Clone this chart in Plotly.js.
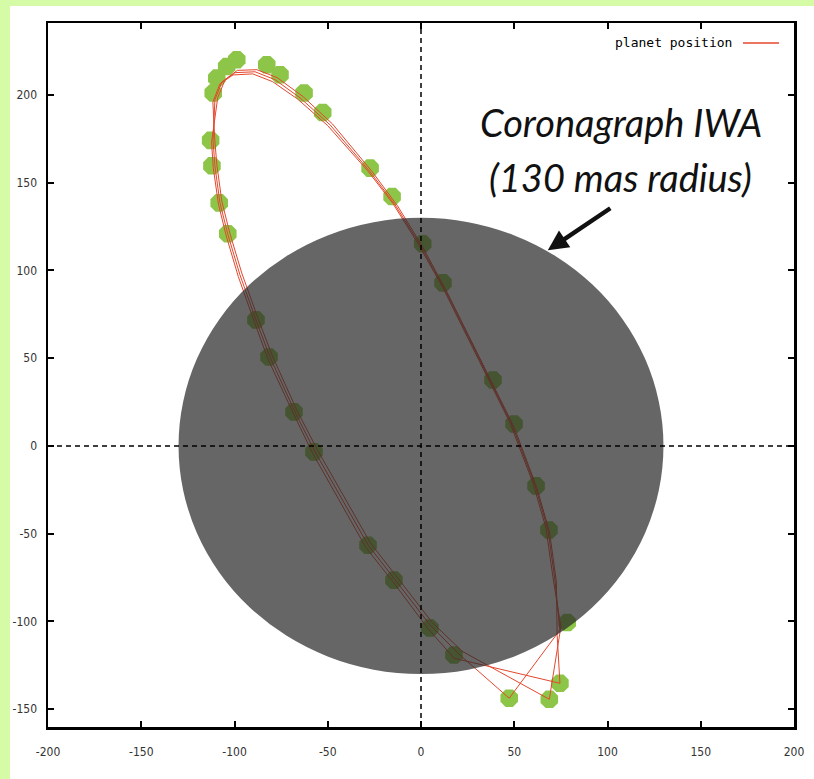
<!DOCTYPE html>
<html>
<head>
<meta charset="utf-8">
<script src="https://cdn.plot.ly/plotly-3.0.1.min.js"></script>
<style>
  html, body { margin:0; padding:0; background:#d5fba6; width:814px; height:779px; overflow:hidden; }
  #plot { position:absolute; left:10px; top:6px; width:804px; height:773px; background:#ffffff; }
</style>
</head>
<body>
<div id="plot"></div>
<script>
// ---- Data (mas) ----
const iwaRadius = 130;

// measured planet positions (green markers)
const posX = [-98.8, -104.2, -109.5, -111.4, -82.7, -75.6, -62.7, -52.7, -27.3, -15.5, 0.9, 11.8, 38.6, 49.9, 61.7, 68.6, 78.4, 74.5, 68.8, 47.3, 17.7, 4.8, -14.5, -28.4, -57.4, -68.1, -81.5, -88.5, -103.6, -108.2, -112.1, -112.8];
const posY = [220.1, 216.2, 209.6, 201.1, 217.2, 211.5, 201.1, 190.0, 158.3, 142.1, 115.2, 92.9, 37.6, 12.5, -22.8, -47.9, -100.7, -135.3, -144.4, -143.8, -119.2, -103.8, -76.5, -56.6, -3.4, 19.4, 50.7, 71.8, 120.9, 138.5, 159.6, 174.1];

// orbit tracks (red lines), three passes
const orbitAX = [-110.5, -106.7, -99.7, -89.0, -78.3, -64.9, -48.8, -27.3, -13.9, -0.5, 12.9, 37.0, 48.8, 61.1, 68.1, 71.8, 74.5, 47.3, 20.9, 4.8, -13.9, -28.4, -56.8, -67.6, -81.0, -88.5, -97.1, -103.5, -107.8, -110.5, -111.5, -110.5];
const orbitAY = [197.3, 207.5, 212.7, 213.2, 208.7, 198.4, 183.0, 156.2, 137.4, 114.6, 88.9, 37.6, 12.0, -22.2, -47.9, -76.4, -104.9, -143.8, -119.2, -102.0, -76.4, -56.4, -3.4, 19.4, 50.7, 71.8, 97.5, 120.3, 138.5, 159.6, 173.9, 197.3];

const orbitBX = [-109.0, -105.0, -98.5, -88.0, -77.0, -63.2, -47.5, -26.0, -12.6, 0.8, 14.0, 38.2, 50.0, 62.0, 68.9, 72.6, 73.0, 74.5, 17.7, 3.5, -15.0, -29.6, -57.9, -68.5, -82.1, -89.4, -98.0, -104.4, -108.6, -111.4, -112.3, -109.0];
const orbitBY = [198.5, 208.8, 214.0, 214.4, 209.8, 199.0, 183.5, 156.0, 136.8, 113.6, 87.5, 36.0, 10.5, -23.5, -49.0, -77.6, -108.0, -135.3, -121.0, -103.8, -77.5, -57.8, -4.6, 18.6, 49.6, 70.8, 96.6, 119.6, 137.7, 158.6, 173.0, 198.5];

const orbitCX = [-111.6, -107.8, -100.8, -90.2, -79.6, -66.1, -50.0, -28.6, -15.1, -1.8, 11.7, 35.8, 47.6, 60.0, 67.0, 70.8, 75.0, 68.8, 22.0, 6.0, -12.7, -27.2, -55.6, -66.6, -79.9, -87.5, -96.1, -102.5, -106.8, -109.5, -110.6, -111.6];
const orbitCY = [196.0, 206.3, 211.4, 212.0, 207.6, 197.6, 182.5, 156.8, 138.2, 115.6, 90.2, 39.0, 13.4, -21.0, -46.8, -75.2, -103.0, -144.4, -117.0, -100.6, -75.2, -55.2, -2.2, 20.4, 51.8, 72.9, 98.5, 121.2, 139.4, 160.6, 174.9, 196.0];

const xTicks = [-200, -150, -100, -50, 0, 50, 100, 150, 200];
const yTicks = [-150, -100, -50, 0, 50, 100, 150, 200];
const legendLabel = 'planet position';
const calloutLines = ['Coronagraph IWA', '(130 mas radius)'];

// ---- Styles ----
const lineColor = '#e4472d';
const markerColor = '#8dc548';

const mkOrbit = (x, y) => ({
  x: x, y: y, type: 'scatter', mode: 'lines',
  line: { color: lineColor, width: 1 },
  hoverinfo: 'skip', showlegend: false
});

const traces = [
  {
    x: posX, y: posY, type: 'scatter', mode: 'markers',
    marker: { symbol: 'octagon', size: 19, color: markerColor, line: { width: 0 } },
    showlegend: false, hoverinfo: 'x+y'
  },
  mkOrbit(orbitAX, orbitAY),
  mkOrbit(orbitBX, orbitBY),
  mkOrbit(orbitCX, orbitCY)
];

const tickFont = { family: 'Liberation Sans Narrow, DejaVu Sans Condensed, Liberation Sans, sans-serif', size: 12, color: '#333333' };

const axisCommon = {
  showgrid: false, zeroline: false,
  showline: true, linecolor: '#000000', linewidth: 2.5,
  mirror: 'allticks', ticks: 'inside', ticklen: 6, tickwidth: 2, tickcolor: '#000000',
  tickfont: tickFont
};

const calloutFont = { family: 'Lato, Open Sans, sans-serif', size: 38, style: 'italic', color: '#111111' };

const layout = {
  width: 804, height: 773,
  margin: { l: 38, r: 20, t: 17, b: 52 },
  paper_bgcolor: '#ffffff', plot_bgcolor: '#ffffff',
  showlegend: false,
  xaxis: Object.assign({}, axisCommon, {
    range: [-200, 200], tickmode: 'array', tickvals: xTicks, ticktext: xTicks.map(String),
    ticklabelstandoff: 12
  }),
  yaxis: Object.assign({}, axisCommon, {
    range: [-160.2, 241], tickmode: 'array', tickvals: yTicks, ticktext: yTicks.map(String),
    ticklabelstandoff: 6
  }),
  shapes: [
    { type: 'circle', xref: 'x', yref: 'y', x0: -iwaRadius, x1: iwaRadius, y0: -iwaRadius, y1: iwaRadius,
      fillcolor: 'rgb(40,40,40)', opacity: 0.71, line: { width: 0 }, layer: 'above' },
    { type: 'line', xref: 'x', yref: 'paper', x0: 0, x1: 0, y0: 0, y1: 1,
      line: { color: '#000000', width: 1.5, dash: '5px,4px' }, layer: 'above' },
    { type: 'line', xref: 'paper', yref: 'y', x0: 0, x1: 1, y0: 0, y1: 0,
      line: { color: '#000000', width: 1.5, dash: '5px,4px' }, layer: 'above' },
    { type: 'line', xref: 'paper', yref: 'paper', x0: 0.9316, x1: 0.9799, y0: 0.9716, y1: 0.9716,
      line: { color: lineColor, width: 1.5 }, layer: 'above' }
  ],
  annotations: [
    { xref: 'paper', yref: 'paper', x: 0.9196, y: 0.9716, xanchor: 'right', yanchor: 'middle',
      text: legendLabel, showarrow: false,
      font: { family: 'DejaVu Sans Mono, monospace', size: 13, color: '#000000' } },
    { xref: 'paper', yref: 'paper', x: 0.768, y: 0.859, xanchor: 'center', yanchor: 'middle',
      text: calloutLines[0], showarrow: false, font: calloutFont },
    { xref: 'paper', yref: 'paper', x: 0.768, y: 0.781, xanchor: 'center', yanchor: 'middle',
      text: calloutLines[1], showarrow: false, font: calloutFont },
    { xref: 'x', yref: 'y', x: 68, y: 111.5, ax: 64, ay: -43, axref: 'pixel', ayref: 'pixel',
      text: '', showarrow: true, arrowhead: 2, arrowsize: 0.9, arrowwidth: 4.5, arrowcolor: '#111111' }
  ]
};

Plotly.newPlot('plot', traces, layout, { staticPlot: true, displayModeBar: false });
</script>
</body>
</html>
